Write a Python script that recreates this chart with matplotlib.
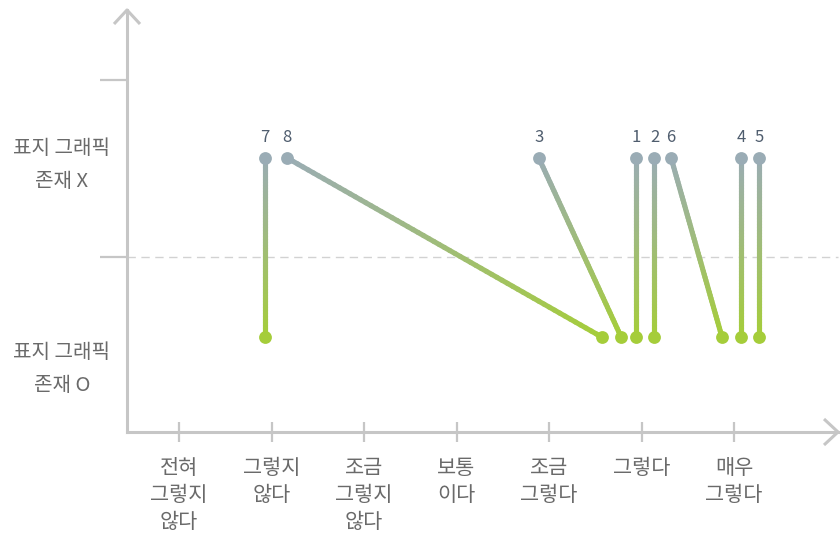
import numpy as np
import matplotlib.pyplot as plt
from matplotlib.collections import LineCollection
from matplotlib.colors import to_rgb

plt.rcParams['font.family'] = ['Noto Sans CJK KR', 'DejaVu Sans']

# respondent numbers and their answers (1 = 전혀 그렇지 않다 ... 7 = 매우 그렇다)
ids = ['1', '2', '3', '4', '5', '6', '7', '8']
score_no_graphic = [5.94, 6.14, 4.89, 7.08, 7.27, 6.32, 1.93, 2.17]   # 표지 그래픽 존재 X
score_graphic = [5.94, 6.14, 5.78, 7.08, 7.27, 6.87, 1.93, 5.57]      # 표지 그래픽 존재 O

x_labels = ['전혀\n그렇지\n않다', '그렇지\n않다', '조금\n그렇지\n않다', '보통\n이다',
            '조금\n그렇다', '그렇다', '매우\n그렇다']
y_labels = ['표지 그래픽\n존재 X', '표지 그래픽\n존재 O']

top_col = to_rgb('#9aacb5')
bot_col = to_rgb('#a5cd3a')
axis_col = '#c6c6c6'
text_col = '#6a6a6a'

fig = plt.figure(figsize=(8.4, 5.33), dpi=100)
ax = fig.add_axes([127/840, 101/533, 711/840, 422/533])

xmin, xmax = 1 + (127-179)/92.5, 1 + (838-179)/92.5
ymin, ymax = -95/179, 327/179
ax.set_xlim(xmin, xmax)
ax.set_ylim(ymin, ymax)

# gradient lines, top (no graphic, y=1) to bottom (graphic, y=0)
n = 60
for x0, x1 in zip(score_no_graphic, score_graphic):
    t = np.linspace(0, 1, n + 1)
    xs = x0 + (x1 - x0) * t
    ys = 1 - t
    pts = np.column_stack([xs, ys]).reshape(-1, 1, 2)
    segs = np.concatenate([pts[:-1], pts[1:]], axis=1)
    tm = (t[:-1] + t[1:]) / 2
    cols = [tuple(np.array(top_col) * (1 - v) + np.array(bot_col) * v) for v in tm]
    lc = LineCollection(segs, colors=cols, linewidths=3.7, capstyle='round', zorder=2)
    ax.add_collection(lc)

ax.scatter(score_no_graphic, [1]*len(ids), s=85, color=top_col, zorder=3, linewidths=0)
ax.scatter(score_graphic, [0]*len(ids), s=85, color=bot_col, zorder=3, linewidths=0)
for lab, x in zip(ids, score_no_graphic):
    ax.annotate(lab, (x, 1), xytext=(0, 9), textcoords='offset points',
                ha='center', va='bottom', fontsize=12, color='#4f5d6e')

# dashed middle line
ax.axhline(0.447, color='#d2d2d2', lw=1, ls=(0, (6, 4)), zorder=1, clip_on=False)

# axes with arrows
for s in ['top', 'right']:
    ax.spines[s].set_visible(False)
for s in ['left', 'bottom']:
    ax.spines[s].set_color(axis_col)
    ax.spines[s].set_linewidth(2.2)
dx, dy = 13/92.5, 14/179
ax.plot([xmin - dx, xmin, xmin + dx], [ymax - dy, ymax, ymax - dy], color=axis_col,
        lw=2.2, clip_on=False, solid_capstyle='butt')
dx2, dy2 = 14/92.5, 13/179
ax.plot([xmax - dx2, xmax, xmax - dx2], [ymin + dy2, ymin, ymin - dy2], color=axis_col,
        lw=2.2, clip_on=False, solid_capstyle='butt')

ax.set_xticks(range(1, 8))
ax.set_xticklabels(x_labels, fontsize=15, color=text_col, linespacing=1.3)
ax.tick_params(axis='x', direction='inout', length=14, width=1.6, color=axis_col, pad=11)
ax.set_yticks([0.447, 1.436])
ax.set_yticklabels([])
ax.tick_params(axis='y', direction='out', length=19.5, width=1.6, color=axis_col)

ax.text(1 + (62-179)/92.5, (337-165)/179, y_labels[0], ha='center', va='center',
        fontsize=14.5, color=text_col, linespacing=1.75, fontweight='medium')
ax.text(1 + (62-179)/92.5, (337-369)/179, y_labels[1], ha='center', va='center',
        fontsize=14.5, color=text_col, linespacing=1.75, fontweight='medium')

plt.savefig('out.png', dpi=100)
